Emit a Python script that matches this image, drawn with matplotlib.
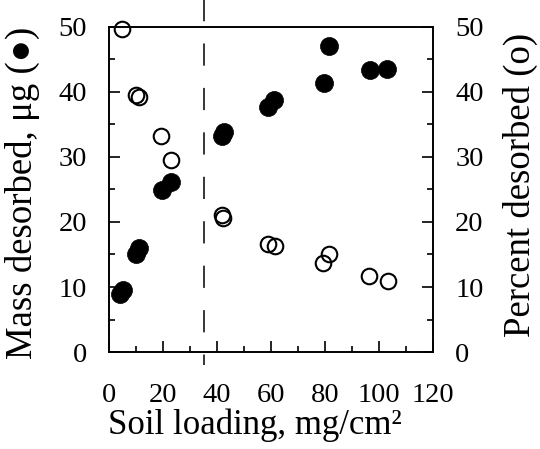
import matplotlib
matplotlib.use('Agg')
import matplotlib.pyplot as plt
from matplotlib.ticker import MultipleLocator

# Soil loading (mg/cm2) and mass desorbed (ug), filled circles
mass_x = [4, 5, 10, 11, 19.5, 23, 42, 42.5, 59, 61, 79.5, 81.5, 96.5, 103]
mass_y = [9, 9.5, 15, 16, 24.9, 26.2, 33.2, 33.9, 37.7, 38.7, 41.4, 47.1, 43.4, 43.5]

# Soil loading (mg/cm2) and percent desorbed, open circles
pct_x = [4.8, 10, 11, 19.3, 23, 42, 42.3, 59, 61.5, 79.3, 81.5, 96.3, 103.3]
pct_y = [49.7, 39.5, 39.3, 33.2, 29.5, 21.1, 20.6, 16.6, 16.3, 13.7, 15.1, 11.7, 10.9]

cutoff = 35  # dashed vertical line

plt.rcParams['font.family'] = ['Liberation Serif', 'DejaVu Serif']
plt.rcParams['lines.scale_dashes'] = False

fig = plt.figure(figsize=(5.4, 4.49), dpi=100)
ax = fig.add_axes([0.2019, 0.216, 0.6, 0.724])
ax2 = ax.twinx()

ax.plot(mass_x, mass_y, 'o', ms=13, mfc='black', mec='black', mew=0.5,
        zorder=3, clip_on=False)
ax2.plot(pct_x, pct_y, 'o', ms=11.2, mfc='none', mec='black', mew=1.5,
         clip_on=False)
ax.plot([cutoff, cutoff], [54.5, -2], color='black', lw=1.1,
        dashes=(16, 16), clip_on=False)

for a in (ax, ax2):
    a.set_ylim(0, 50)
    a.yaxis.set_major_locator(MultipleLocator(10))
    a.yaxis.set_minor_locator(MultipleLocator(5))
    for s in a.spines.values():
        s.set_linewidth(1.2)
ax.set_xlim(0, 120)
ax.xaxis.set_major_locator(MultipleLocator(20))
ax.xaxis.set_minor_locator(MultipleLocator(10))

ax.tick_params(which='both', direction='in', top=False, right=False,
               labelsize=20.5, width=1.2)
ax.tick_params(which='major', length=8, pad=16)
ax.tick_params(which='minor', length=4)
ax.tick_params(axis='x', which='major', pad=22.5)
ax2.tick_params(which='both', direction='in', labelsize=20.5, width=1.2)
ax2.tick_params(which='major', length=8, pad=16)
ax2.tick_params(which='minor', length=4)

ax.set_xlabel('Soil loading, mg/cm\u00b2', fontsize=25, labelpad=0)
ax.xaxis.label.set_x(0.45)
ax.set_ylabel('Mass desorbed, \u03bcg (\u25cf)', fontsize=26.5, labelpad=13)
ax.yaxis.label.set_y(0.49)
ax2.set_ylabel('Percent desorbed (o)', fontsize=26.5, labelpad=14)
ax2.yaxis.label.set_y(0.515)

fig.savefig('out.png', dpi=100)
